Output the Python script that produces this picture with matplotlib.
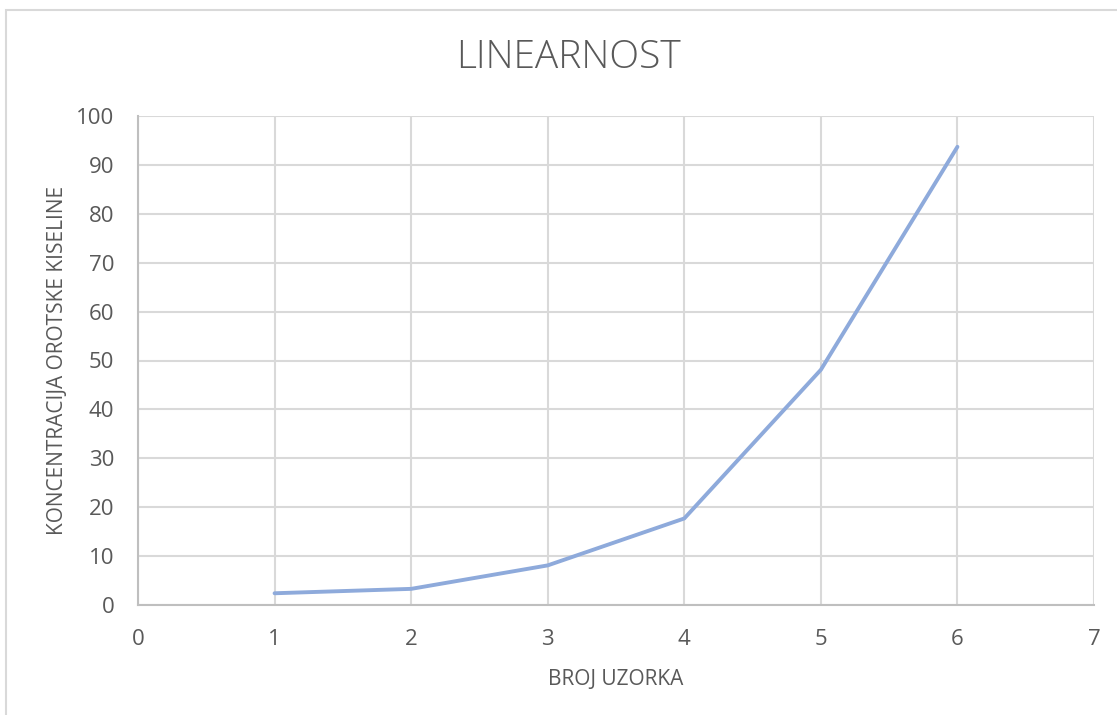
import matplotlib
matplotlib.use('Agg')
import matplotlib.pyplot as plt
from matplotlib.patches import Rectangle

# values
sample_no = [1, 2, 3, 4, 5, 6]
concentration = [2.4, 3.3, 8.1, 17.7, 48.1, 93.7]

x_ticks = [0, 1, 2, 3, 4, 5, 6, 7]
y_ticks = [0, 10, 20, 30, 40, 50, 60, 70, 80, 90, 100]

TEXT = '#595959'
GRID = '#d9d9d9'
AXIS = '#bfbfbf'
LINE = '#8eaadb'

plt.rcParams['font.family'] = ['Open Sans', 'DejaVu Sans']

fig = plt.figure(figsize=(11.17, 7.15), dpi=100)
fig.patches.append(Rectangle((6 / 1117, -0.1), 1.2, 0.1 + 1 - 10 / 715,
                             transform=fig.transFigure, fill=False,
                             edgecolor=GRID, linewidth=1.5))

ax = fig.add_axes([138 / 1117, 1 - 605 / 715, (1094 - 138) / 1117, (605 - 116) / 715])
ax.plot(sample_no, concentration, color=LINE, linewidth=2.8,
        solid_capstyle='round', solid_joinstyle='round', zorder=3)

ax.set_xlim(0, 7)
ax.set_ylim(0, 100)
ax.set_xticks(x_ticks)
ax.set_yticks(y_ticks)
ax.grid(True, color=GRID, linewidth=1.5)
ax.set_axisbelow(True)
for side in ('top', 'right'):
  ax.spines[side].set_visible(False)
for side in ('left', 'bottom'):
  ax.spines[side].set_color(AXIS)
  ax.spines[side].set_linewidth(1.5)
ax.tick_params(length=0, labelsize=16, labelcolor=TEXT)
ax.tick_params(axis='x', pad=17)
ax.tick_params(axis='y', pad=17)

ax.set_xlabel('BROJ UZORKA', fontsize=15, color=TEXT, labelpad=14)
ax.set_ylabel('KONCENTRACIJA OROTSKE KISELINE', fontsize=15, color=TEXT)
ax.yaxis.set_label_coords(-0.073, 0.5)
fig.text(0.5086, 1 - 58 / 715, 'LINEARNOST', ha='center', va='center',
         fontsize=28, color=TEXT, fontweight='light')

fig.savefig('out.png', dpi=100)
